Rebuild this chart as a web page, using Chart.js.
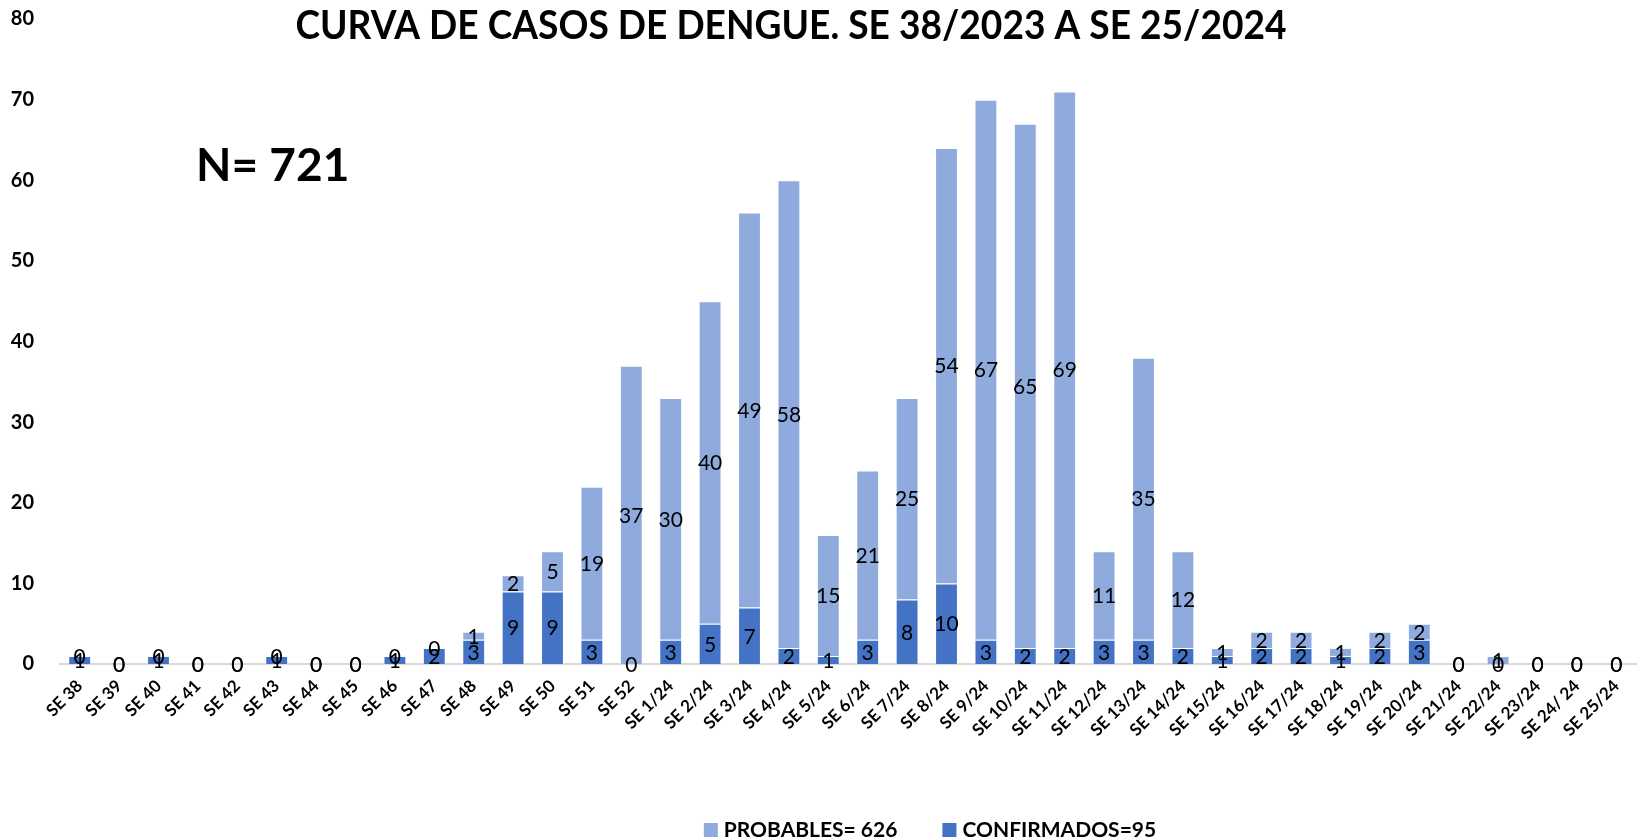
<!DOCTYPE html>
<html>
<head>
<meta charset="utf-8">
<script src="https://cdn.jsdelivr.net/npm/chart.js@4.4.1/dist/chart.umd.min.js"></script>
<style>
	html, body { margin: 0; padding: 0; background: #fff; }
	#wrap { width: 1642px; height: 839px; position: relative; }
</style>
</head>
<body>
<div id="wrap"><canvas id="chart"></canvas></div>
<script>
/* Curva de casos de dengue -- stacked bars, confirmados + probables */

const TITLE = "CURVA DE CASOS DE DENGUE. SE 38/2023 A SE 25/2024";
const TOTAL_LABEL = "N= 721";

const categories = [
	"SE 38", "SE 39", "SE 40", "SE 41", "SE 42", "SE 43", "SE 44", "SE 45",
	"SE 46", "SE 47", "SE 48", "SE 49", "SE 50", "SE 51", "SE 52",
	"SE 1/24", "SE 2/24", "SE 3/24", "SE 4/24", "SE 5/24", "SE 6/24", "SE 7/24",
	"SE 8/24", "SE 9/24", "SE 10/24", "SE 11/24", "SE 12/24", "SE 13/24",
	"SE 14/24", "SE 15/24", "SE 16/24", "SE 17/24", "SE 18/24", "SE 19/24",
	"SE 20/24", "SE 21/24", "SE 22/24", "SE 23/24", "SE 24/ 24", "SE 25/24",
];

const confirmados = [
	1, 0, 1, 0, 0, 1, 0, 0, 1, 2, 3, 9, 9, 3, 0,
	3, 5, 7, 2, 1, 3, 8, 10, 3, 2, 2, 3, 3, 2, 1, 2, 2, 1, 2, 3, 0, 0, 0, 0, 0,
];

const probables = [
	0, 0, 0, 0, 0, 0, 0, 0, 0, 0, 1, 2, 5, 19, 37,
	30, 40, 49, 58, 15, 21, 25, 54, 67, 65, 69, 11, 35, 12, 1, 2, 2, 1, 2, 2, 0, 1, 0, 0, 0,
];

const yTicks = [0, 10, 20, 30, 40, 50, 60, 70, 80];

const COLORS = {
	probables: "#8faadc",
	confirmados: "#4472c4",
	barEdge: "rgba(255,255,255,0.45)",
	axis: "#d9d9d9",
	text: "#000",
};

const FONT = "Lato, 'Open Sans', sans-serif";

// Title, N label, legend and value labels drawn on top of the chart
const overlayPlugin = {
	id: "overlay",
	afterDatasetsDraw(chart) {
		const ctx = chart.ctx;
		ctx.save();
		ctx.font = "21px " + FONT;
		ctx.fillStyle = COLORS.text;
		ctx.textAlign = "center";
		ctx.textBaseline = "middle";
		chart.data.datasets.forEach((ds, i) => {
			const meta = chart.getDatasetMeta(i);
			meta.data.forEach((bar, j) => {
				const y = (bar.y + bar.base) / 2;
				ctx.fillText(String(ds.data[j]), bar.x, y + 1);
			});
		});
		ctx.restore();
	},
	afterDraw(chart) {
		const ctx = chart.ctx;
		ctx.save();
		ctx.fillStyle = COLORS.text;
		ctx.textBaseline = "alphabetic";

		// title, fitted to the width it has in the reference
		ctx.font = "bold 40px " + FONT;
		const tw = ctx.measureText(TITLE).width;
		const sx = 991 / tw;
		ctx.save();
		ctx.translate(791, 39);
		ctx.scale(sx, 1);
		ctx.textAlign = "center";
		ctx.fillText(TITLE, 0, 0);
		ctx.restore();

		// N label
		ctx.font = "bold 46px " + FONT;
		ctx.textAlign = "left";
		ctx.fillText(TOTAL_LABEL, 196, 181);

		// legend: probables first
		ctx.font = "bold 21px " + FONT;
		const items = chart.data.datasets.slice().reverse();
		const box = 14, gapBox = 6, gapItem = 45;
		let total = 0;
		items.forEach((ds, i) => {
			total += box + gapBox + ctx.measureText(ds.label).width;
			if (i < items.length - 1) total += gapItem;
		});
		let x = 930 - total / 2;
		items.forEach(ds => {
			ctx.fillStyle = ds.backgroundColor;
			ctx.fillRect(x, 823, box, box);
			x += box + gapBox;
			ctx.fillStyle = COLORS.text;
			ctx.fillText(ds.label, x, 837);
			x += ctx.measureText(ds.label).width + gapItem;
		});
		ctx.restore();
	},
};

const ctx = document.getElementById("chart");

new Chart(ctx, {
	type: "bar",
	data: {
		labels: categories,
		datasets: [
			{
				label: "CONFIRMADOS=95",
				data: confirmados,
				backgroundColor: COLORS.confirmados,
				borderColor: COLORS.barEdge,
				borderWidth: 1,
				barPercentage: 0.58,
				categoryPercentage: 1,
			},
			{
				label: "PROBABLES= 626",
				data: probables,
				backgroundColor: COLORS.probables,
				borderColor: COLORS.barEdge,
				borderWidth: 1,
				barPercentage: 0.58,
				categoryPercentage: 1,
			},
		],
	},
	options: {
		responsive: true,
		maintainAspectRatio: false,
		animation: false,
		layout: { padding: { top: 19, right: 6, left: 0, bottom: 0 } },
		plugins: {
			legend: { display: false },
			title: { display: false },
			tooltip: { enabled: false },
		},
		scales: {
			x: {
				stacked: true,
				grid: { display: false },
				border: { display: true, color: COLORS.axis, width: 2 },
				ticks: {
					color: COLORS.text,
					font: { family: FONT, size: 17, weight: "bold" },
					maxRotation: 45,
					minRotation: 45,
					autoSkip: false,
					padding: 4,
				},
				afterFit: s => {
					s.height = 175;
					s.paddingLeft = 0;
					s.paddingRight = 0;
				},
			},
			y: {
				stacked: true,
				min: 0,
				max: 80,
				grid: { display: false },
				border: { display: false },
				afterBuildTicks: s => { s.ticks = yTicks.map(v => ({ value: v })); },
				ticks: {
					color: COLORS.text,
					font: { family: FONT, size: 20, weight: "bold" },
					padding: 18,
				},
				afterFit: s => {
					s.width = 60;
					s.paddingTop = 0;
					s.paddingBottom = 0;
				},
			},
		},
	},
	plugins: [overlayPlugin],
});
</script>
</body>
</html>
